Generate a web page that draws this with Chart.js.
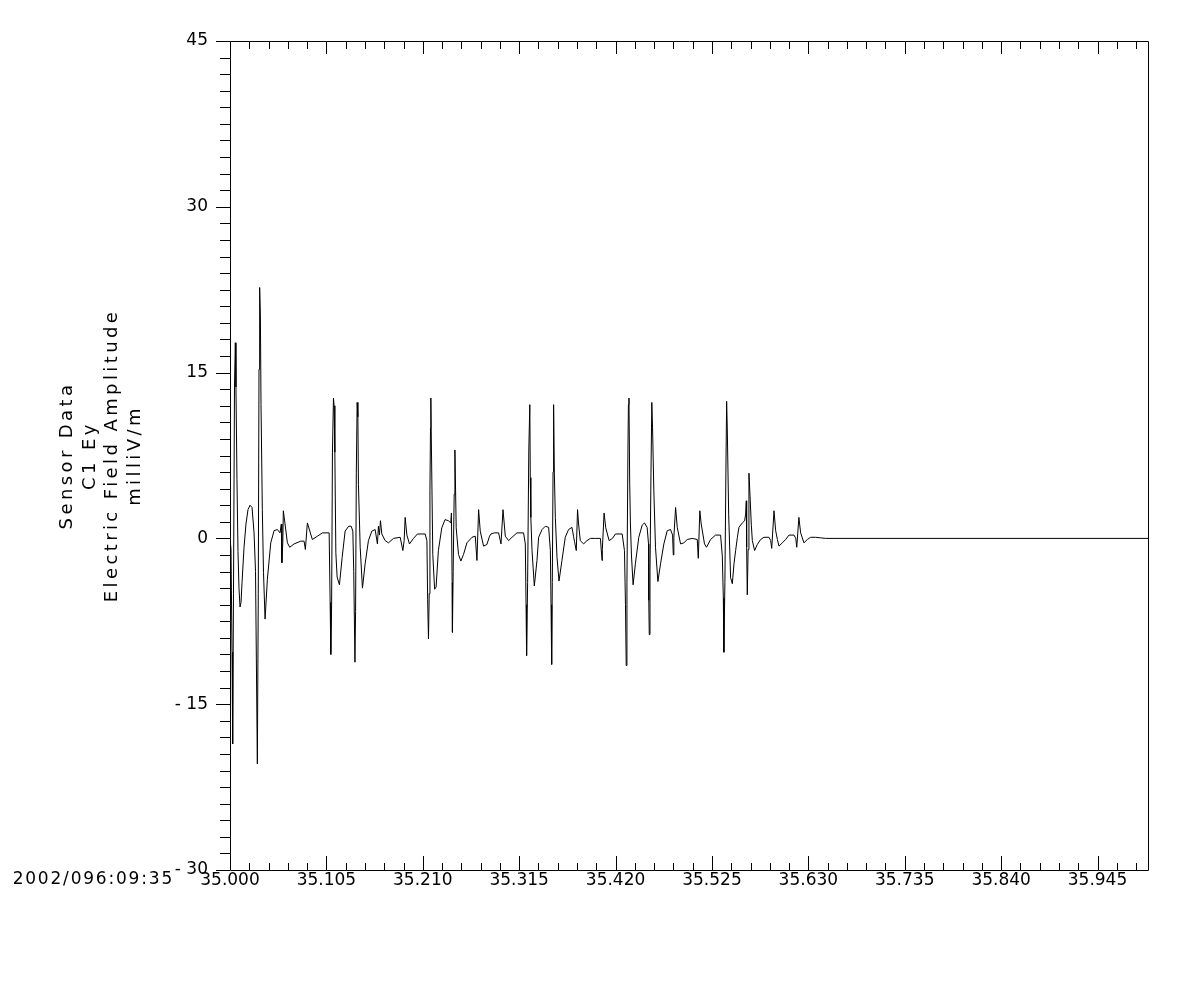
<!DOCTYPE html>
<html>
<head>
<meta charset="utf-8">
<title>Sensor Data C1 Ey</title>
<script src="https://cdn.jsdelivr.net/npm/chart.js@4/dist/chart.umd.min.js"></script>
<style>
  body { margin: 0; background: #fff; }
  canvas { display: block; }
</style>
</head>
<body>
<canvas id="ey-chart" width="1200" height="1000"></canvas>
<script>
// Time in ms after 2002/096:09:35:35.000
const timeMs = [
  0.0, 1.1, 2.2, 2.9, 3.8, 4.9, 5.8, 6.5, 7.6, 8.7, 9.8, 10.9, 12.0, 13.1, 15.3, 17.4, 19.6, 21.8, 24.0, 26.2,
  27.8, 28.7, 29.8, 30.8, 31.6, 32.3, 33.1, 33.8, 35.2, 36.5, 38.2, 40.7, 44.4, 48.0, 51.6, 54.5, 55.9, 56.5, 57.5, 58.1,
  58.9, 62.5, 65.1, 69.8, 77.1, 80.7, 82.1, 84.3, 89.7, 95.2, 100.7, 108.0, 109.1, 109.8, 110.7, 111.6, 112.7, 113.4, 114.2, 115.3,
  116.7, 119.2, 122.2, 125.4, 129.3, 132.0, 133.8, 134.8, 136.1, 136.8, 137.6, 138.5, 139.3, 139.9, 141.8, 144.3, 147.2, 150.8, 154.5, 158.1,
  160.6, 161.7, 162.8, 163.9, 165.4, 169.0, 172.6, 178.1, 185.4, 188.3, 189.7, 190.8, 192.7, 195.5, 199.9, 204.2, 212.6, 214.5, 215.3, 216.2,
  217.0, 217.8, 218.4, 218.8, 219.3, 220.9, 222.9, 224.5, 227.0, 230.7, 234.3, 237.9, 240.5, 241.2, 242.0, 242.3, 243.1, 244.2, 245.0, 246.4,
  248.9, 251.5, 254.4, 258.1, 263.6, 267.2, 269.0, 270.8, 272.6, 276.2, 279.9, 282.7, 284.3, 287.9, 292.6, 295.2, 297.4, 299.9, 303.5, 307.2,
  312.6, 319.8, 321.7, 322.5, 323.1, 324.2, 325.5, 326.6, 327.1, 327.7, 329.0, 331.5, 334.4, 336.2, 339.9, 343.5, 347.1, 349.0, 349.7, 350.4,
  351.1, 351.9, 352.5, 353.3, 354.4, 356.2, 358.4, 361.6, 365.2, 368.8, 372.5, 374.2, 375.3, 377.2, 378.6, 379.7, 381.6, 385.2, 388.9, 392.6,
  398.0, 403.5, 405.3, 405.6, 407.5, 409.3, 413.0, 416.6, 419.9, 427.2, 429.7, 430.8, 431.6, 432.4, 433.5, 434.0, 434.6, 435.4, 436.2, 437.3,
  439.1, 441.6, 445.3, 449.0, 451.5, 454.4, 455.9, 456.2, 456.7, 457.5, 458.6, 459.5, 460.3, 461.7, 463.5, 466.1, 469.0, 472.6, 476.3, 479.9,
  482.1, 482.9, 483.5, 485.4, 487.2, 490.8, 494.4, 498.1, 503.5, 509.0, 510.1, 511.8, 513.3, 516.9, 519.1, 523.5, 528.9, 534.4, 536.3, 537.4,
  538.0, 539.1, 540.2, 541.0, 541.7, 543.2, 544.6, 545.3, 547.2, 549.0, 550.8, 552.7, 554.4, 558.1, 560.6, 561.7, 562.4, 562.8, 563.5, 564.4,
  565.3, 566.4, 567.9, 569.0, 571.5, 574.4, 578.0, 581.7, 587.1, 589.0, 590.1, 592.6, 594.4, 596.3, 598.0, 601.7, 605.3, 608.9, 614.4, 616.3,
  617.4, 619.7, 621.6, 625.2, 628.9, 632.5, 637.9, 643.4, 648.8, 1000.0
];

// Electric field amplitude, milliV/m
const ey = [
  0.0, -1.0, -10.3, -18.6, -5.0, 13.7, 17.7, 13.7, 5.3, -1.2, -4.5, -6.2, -5.8, -4.0, -0.8, 1.3, 2.6, 3.0, 2.8, 0.5,
  -3.0, -10.9, -20.4, -5.0, 15.3, 22.7, 20.2, 12.1, 2.6, -3.1, -7.3, -3.7, -0.4, 0.7, 0.8, 0.5, 1.3, -2.2, -0.4, 2.5,
  2.0, -0.4, -0.8, -0.5, -0.25, -0.25, -1.0, 1.4, -0.1, 0.2, 0.5, 0.5, -5.8, -10.5, -6.0, 7.8, 12.7, 12.0, 7.8, -1.3,
  -3.5, -4.2, -1.7, 0.66, 1.1, 1.1, 0.66, -3.0, -11.2, -6.6, 6.0, 12.3, 11.0, 4.9, -0.8, -4.5, -2.3, -0.2, 0.66, 0.8,
  -0.5, 1.1, 0.3, 1.6, 0.4, -0.2, -0.4, 0.0, 0.1, -1.1, -0.2, 1.9, 0.3, -0.5, 0.0, 0.4, 0.4, -0.2, -5.5, -9.1,
  -5.0, 4.3, 10.0, 12.7, 9.0, -1.45, -4.6, -4.4, -1.1, 0.96, 1.7, 1.6, 1.4, 2.3, -4.0, -8.5, -3.0, 4.0, 8.0, 0.96,
  -1.45, -2.05, -1.45, -0.4, 0.1, 0.2, -2.0, 2.6, 0.66, -0.7, -0.55, 0.2, 0.4, 0.5, 0.5, -0.5, 2.6, 0.2, -0.2, 0.1,
  0.5, 0.5, -0.5, -6.0, -10.6, -4.0, 8.0, 12.1, 5.5, 1.9, -1.1, -4.3, -2.0, 0.1, 0.8, 1.1, 1.0, -1.1, -6.0, -11.4,
  -4.0, 6.0, 12.1, 6.0, 1.9, -1.7, -3.86, -2.0, 0.1, 0.8, 1.0, 0.2, -0.3, -1.1, 2.6, 1.3, -0.2, -0.5, -0.2, 0.0,
  0.0, 0.0, -2.0, -1.0, 2.3, 0.96, -0.2, 0.0, 0.4, 0.4, -1.1, -6.0, -11.5, -4.0, 8.0, 12.1, 12.7, 5.0, 1.3, -1.5,
  -4.2, -2.3, 0.1, 1.2, 1.4, 1.0, -0.5, -5.6, -8.7, -3.0, 6.0, 12.3, 10.0, 4.3, -0.8, -3.9, -2.3, -0.5, 0.7, 0.8,
  0.3, -1.5, 0.1, 2.8, 1.0, -0.5, -0.4, -0.1, 0.0, -0.1, -1.8, 2.5, 1.3, -0.5, -0.8, -0.1, 0.3, 0.3, -1.6, -5.4,
  -10.3, -4.0, 6.0, 12.4, 10.0, 2.2, -1.6, -3.55, -4.1, -2.3, -1.1, 0.1, 1.0, 1.4, 1.6, 2.2, 3.4, -0.8, -5.1, -1.0,
  5.9, 4.0, 1.2, -0.2, -1.1, -0.55, -0.1, 0.1, 0.1, -0.2, -0.9, 2.5, 0.7, -0.1, -0.7, -0.4, -0.1, 0.3, 0.3, 0.0,
  -0.8, 1.9, 0.5, -0.4, -0.1, 0.1, 0.1, 0.05, 0.0, 0.0
];

const xTicks = [35.000, 35.105, 35.210, 35.315, 35.420, 35.525, 35.630, 35.735, 35.840, 35.945];
const yTicks = [-30, -15, 0, 15, 30, 45];
const yTitle = ['Sensor Data', 'C1 Ey', 'Electric Field Amplitude', 'milliV/m'];
const startLabel = '2002/096:09:35';

document.addEventListener('DOMContentLoaded', () => {
    const ctx = document.getElementById('ey-chart').getContext('2d');

    Chart.defaults.font.family = '"DejaVu Sans"';
    Chart.defaults.font.size = 17;
    Chart.defaults.color = '#000';

    const points = timeMs.map((t, i) => ({ x: 35 + t / 1000, y: ey[i] }));

    // Ramka, male i duze kreski osi, opisy
    const frameTicks = {
        id: 'frameTicks',
        afterDraw(chart) {
            const { ctx, chartArea: a, scales: { x, y } } = chart;
            ctx.save();
            ctx.strokeStyle = '#000';
            ctx.lineWidth = 1;
            ctx.beginPath();
            ctx.rect(a.left + 0.5, a.top + 0.5, a.right - a.left, a.bottom - a.top);

            // os Y - kreski na zewnatrz, co 1.5
            for (let i = 0; i <= 50; i++) {
                const py = Math.round(y.getPixelForValue(-30 + i * 1.5)) + 0.5;
                const len = i % 10 === 0 ? 14 : 10;
                ctx.moveTo(a.left, py);
                ctx.lineTo(a.left - len, py);
            }

            // os X - dol (do gory) i gora (w dol), co 0.021
            for (let i = 0; i <= 47; i++) {
                const px = Math.round(x.getPixelForValue(35 + i * 0.021)) + 0.5;
                const major = i % 5 === 0;
                ctx.moveTo(px, a.bottom);
                ctx.lineTo(px, a.bottom - (major ? 14 : 7));
                ctx.moveTo(px, a.top);
                ctx.lineTo(px, a.top + (major ? 13 : 8));
            }
            ctx.stroke();

            ctx.fillStyle = '#000';
            ctx.textBaseline = 'middle';

            // data startu pod osia
            ctx.font = '17px "DejaVu Sans"';
            ctx.letterSpacing = '1.8px';
            ctx.textAlign = 'right';
            ctx.fillText(startLabel, 174, a.bottom + 10);

            // tytul osi Y - cztery linie, obrocone
            ctx.font = '18px "DejaVu Sans"';
            ctx.letterSpacing = '3.4px';
            ctx.textAlign = 'center';
            const cy = (a.top + a.bottom) / 2;
            yTitle.forEach((line, i) => {
                ctx.save();
                ctx.translate(67 + i * 22.9, cy);
                ctx.rotate(-Math.PI / 2);
                ctx.fillText(line, 0, 0);
                ctx.restore();
            });
            ctx.letterSpacing = '0px';
            ctx.restore();
        }
    };

    window.myChart = new Chart(ctx, {
        type: 'line',
        data: {
            datasets: [{
                data: points,
                borderColor: '#000',
                borderWidth: 1,
                pointRadius: 0,
                tension: 0,
                fill: false
            }]
        },
        options: {
            responsive: false,
            animation: false,
            layout: {
                padding: { left: 0, top: 41, right: 52, bottom: 0 }
            },
            plugins: {
                legend: { display: false },
                tooltip: { enabled: false }
            },
            scales: {
                x: {
                    type: 'linear',
                    min: 35,
                    max: 36,
                    grid: { display: false, drawTicks: false },
                    border: { display: false },
                    afterBuildTicks: axis => { axis.ticks = xTicks.map(v => ({ value: v })); },
                    afterFit: axis => { axis.height = 130; },
                    ticks: {
                        autoSkip: false,
                        maxRotation: 0,
                        padding: 0,
                        callback: v => v.toFixed(3)
                    }
                },
                y: {
                    type: 'linear',
                    min: -30,
                    max: 45,
                    grid: { display: false, drawTicks: false },
                    border: { display: false },
                    afterBuildTicks: axis => { axis.ticks = yTicks.map(v => ({ value: v })); },
                    afterFit: axis => { axis.width = 230; },
                    ticks: {
                        autoSkip: false,
                        padding: 22,
                        callback: v => (v < 0 ? '- ' + Math.abs(v) : String(v))
                    }
                }
            }
        },
        plugins: [frameTicks]
    });
});
</script>
</body>
</html>
